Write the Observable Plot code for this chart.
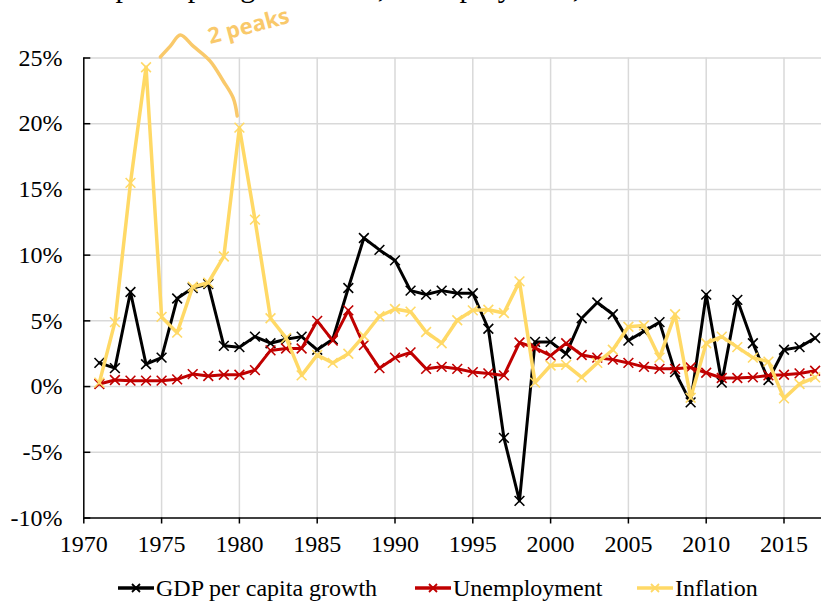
<!DOCTYPE html>
<html><head><meta charset="utf-8">
<script src="https://cdn.jsdelivr.net/npm/d3@7"></script>
<script src="https://cdn.jsdelivr.net/npm/@observablehq/plot@0.6"></script>
<style>
body{margin:0;background:#fff;font-family:"Liberation Serif","Tinos","Times New Roman","DejaVu Serif",serif;}
#wrap{position:relative;width:821px;height:602px;overflow:hidden;background:#fff;}
#title{position:absolute;left:49px;top:-28.5px;font-size:30px;line-height:30px;white-space:nowrap;color:#000;}
#legend{position:absolute;left:0;top:575px;width:821px;height:26px;font-size:24px;color:#000;}
.item{position:absolute;top:0;display:flex;align-items:center;height:26px;white-space:nowrap;}
.item svg{display:block;margin-right:2px;}
</style></head><body>
<div id="wrap"><div id="chart"></div><div id="title">GDP per capita growth rate, unemployment, and inflation</div><div id="legend"></div></div>
<script>
const years = [1971,1972,1973,1974,1975,1976,1977,1978,1979,1980,1981,1982,1983,1984,1985,1986,1987,1988,1989,1990,1991,1992,1993,1994,1995,1996,1997,1998,1999,2000,2001,2002,2003,2004,2005,2006,2007,2008,2009,2010,2011,2012,2013,2014,2015,2016,2017];
const gdpGrowth = [1.8,1.4,7.2,1.7,2.2,6.7,7.5,7.8,3.1,3.0,3.8,3.3,3.6,3.8,2.8,3.6,7.5,11.3,10.4,9.6,7.3,7.0,7.3,7.1,7.1,4.4,-3.9,-8.7,3.4,3.4,2.5,5.2,6.4,5.5,3.5,4.2,4.9,1.1,-1.2,7.0,0.3,6.6,3.3,0.5,2.8,3.0,3.7];
const unemployment = [0.2,0.5,0.45,0.45,0.45,0.55,0.95,0.8,0.9,0.9,1.25,2.75,2.9,2.9,5.0,3.5,5.8,3.15,1.4,2.2,2.6,1.35,1.5,1.35,1.1,1.0,0.85,3.35,2.95,2.35,3.3,2.4,2.2,2.05,1.8,1.5,1.35,1.35,1.45,1.05,0.65,0.65,0.7,0.85,0.9,1.0,1.2];
const inflation = [0.3,4.9,15.5,24.3,5.3,4.1,7.6,7.9,9.9,19.7,12.7,5.2,3.7,0.85,2.4,1.8,2.5,3.85,5.35,5.9,5.7,4.15,3.3,5.05,5.8,5.85,5.6,8.0,0.3,1.6,1.65,0.7,1.8,2.8,4.55,4.65,2.2,5.5,-0.85,3.3,3.8,3.0,2.2,1.9,-0.9,0.2,0.7];
const seriesNames = ["GDP per capita growth","Unemployment","Inflation"];
const seriesColors = ["#000000","#C00000","#FFD966"];
const xTicks = [1970,1975,1980,1985,1990,1995,2000,2005,2010,2015];
const yTicks = [-10,-5,0,5,10,15,20,25];
// hand-drawn annotation ("2 peaks") in data coordinates
const annotYears = [1974.92,1975.56,1976.2,1977.03,1978.12,1978.96,1979.6,1979.86];
const annotValues = [25.08,25.9,26.75,25.9,24.77,23.25,21.96,20.59];
const annotLabel = ["2 peaks"];
const annotLabelYear = [1980.6];
const annotLabelValue = [27.4];
const annotColor = "#F9C96B";
const serifFont = "'Liberation Serif', Tinos, 'Times New Roman', 'DejaVu Serif', serif";
const legendLeft = [118, 415, 637];

const seriesValues = [gdpGrowth, unemployment, inflation];
const seriesData = seriesValues.map(vals => years.map((yr,i)=>({year:yr, value:vals[i]})));
const annotData = annotYears.map((yr,i)=>({year:yr, value:annotValues[i]}));

const grid = {stroke:"#d9d9d9", strokeOpacity:1, strokeWidth:1.5};
const seriesMarks = seriesData.flatMap((d,k)=>[
  Plot.line(d, {x:"year", y:"value", stroke:seriesColors[k], strokeWidth:k===2?3.5:3, strokeLinejoin:"round"}),
  Plot.dot(d, {x:"year", y:"value", symbol:"times", r:4.5, stroke:seriesColors[k], strokeWidth:1.6})
]);

const chart = Plot.plot({
  width:821, height:565,
  marginLeft:83.3, marginRight:0, marginTop:57.5, marginBottom:47.5,
  style:{fontFamily:serifFont, fontSize:"24px", background:"#fff", overflow:"visible", color:"#000"},
  x:{domain:[1970,2017.41], label:null},
  y:{domain:[-10,25], label:null},
  marks:[
    Plot.gridX(xTicks.filter(d=>d>1970), grid),
    Plot.gridY(yTicks.filter(d=>d>-10), grid),
    Plot.ruleX([1970], {stroke:"#000", strokeWidth:1.5}),
    Plot.ruleY([-10], {stroke:"#000", strokeWidth:1.5}),
    Plot.axisX(xTicks, {tickFormat:d=>String(d), tickSize:6, tickPadding:11, fontSize:24, fontFamily:serifFont, strokeWidth:1.5}),
    Plot.axisY(yTicks, {tickFormat:d=>d+"%", tickSize:-7, tickPadding:28.3, fontSize:24, fontFamily:serifFont, strokeWidth:1.5}),
    ...seriesMarks,
    Plot.line(annotData, {x:"year", y:"value", curve:"catmull-rom", stroke:annotColor, strokeWidth:3.5, strokeLinecap:"round"}),
    Plot.text(annotLabel, {x:annotLabelYear, y:annotLabelValue, text:d=>d, rotate:-15, fill:annotColor, fontSize:22, fontFamily:"'Noto Sans', sans-serif", fontWeight:"bold"})
  ]
});
document.getElementById("chart").appendChild(chart);

const legend = document.getElementById("legend");
seriesNames.forEach((name,k)=>{
  const item = document.createElement("div");
  item.className = "item";
  item.style.left = legendLeft[k] + "px";
  const c = seriesColors[k];
  item.innerHTML = `<svg width="36" height="20"><line x1="0" y1="10" x2="36" y2="10" stroke="${c}" stroke-width="3.5"/><path d="M14,6L22,14M22,6L14,14" stroke="${c}" stroke-width="1.8"/></svg><span>${name}</span>`;
  legend.appendChild(item);
});
</script>
</body></html>
